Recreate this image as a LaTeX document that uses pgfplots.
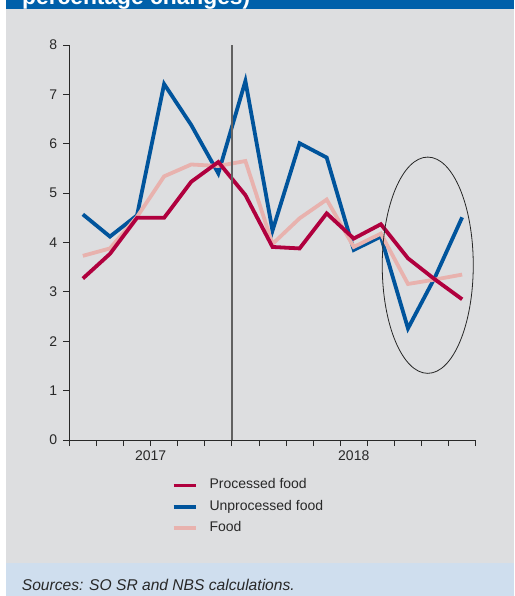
\documentclass[border=0pt]{standalone}
\usepackage{pgfplots}
\pgfplotsset{compat=1.18}
\usepackage{fontspec}
\setmainfont{Liberation Sans}
\definecolor{hdrblue}{RGB}{0,96,170}
\definecolor{panelgray}{RGB}{221,222,224}
\definecolor{srcblue}{RGB}{207,222,238}
\definecolor{cred}{RGB}{176,0,62}
\definecolor{cblue}{RGB}{0,84,156}
\definecolor{cpink}{RGB}{232,178,174}
\definecolor{txt}{RGB}{40,40,40}
\begin{document}
\begin{tikzpicture}[x=1pt,y=1pt]
\fill[white] (0,0) rectangle (514,-596);
\fill[hdrblue] (6,0) rectangle (514,-9.5);
\begin{scope}
\clip (6,0) rectangle (514,-9.5);
\node[anchor=base west, inner sep=0pt, text=white, font=\bfseries\fontsize{22.8}{24}\selectfont] at (22,-5) {percentage changes)};
\end{scope}
\fill[panelgray] (6,-9.5) rectangle (514,-562.7);
\fill[srcblue] (6,-562.7) rectangle (514,-596);
\node[anchor=base west, inner sep=0pt, text=txt, font=\itshape\fontsize{15.6}{18}\selectfont] at (21.7,-590) {Sources: SO SR and NBS calculations.};
\begin{axis}[
  at={(69.3pt,-440pt)}, anchor=south west,
  scale only axis, width=406.4pt, height=395pt,
  xmin=0, xmax=15, ymin=0, ymax=8,
  axis lines*=left,
  axis line style={-, draw=txt, line width=0.8pt},
  tick align=outside, major tick length=6pt,
  tick style={draw=txt, line width=0.8pt},
  xtick={0,1,...,15}, xticklabels={},
  ytick={0,1,...,8},
  extra x ticks={3,10.5}, extra x tick labels={2017,2018},
  extra x tick style={tick style={draw=none}},
  xticklabel style={inner sep=0pt, yshift=-5pt},
  yticklabel style={inner sep=0pt, xshift=-6pt},
  /pgf/number format/assume math mode=true,
  every tick label/.append style={font=\fontsize{14}{16}\selectfont, text=txt},
  clip=false,
  legend style={at={(0.2525,-0.0987)}, anchor=north west, draw=none, fill=none,
    inner sep=0pt, outer sep=0pt, row sep=8.3pt, column sep=12pt,
    font=\fontsize{14}{16}\selectfont, text=txt,
    nodes={inner sep=0pt, text height=10pt, text depth=3pt}},
  legend cell align=left,
  legend image code/.code={\draw[#1, line width=3.6pt] (0pt,0pt) -- (22pt,0pt);},
]
\addplot[cblue, line width=3.8pt, forget plot] coordinates {
(0.5,4.57) (1.5,4.12) (2.5,4.55) (3.5,7.21) (4.5,6.38) (5.5,5.40) (6.5,7.27) (7.5,4.24)
(8.5,6.01) (9.5,5.72) (10.5,3.85) (11.5,4.12) (12.5,2.26) (13.5,3.30) (14.5,4.51)};
\addplot[cpink, line width=3.8pt, forget plot] coordinates {
(0.5,3.73) (1.5,3.88) (2.5,4.52) (3.5,5.34) (4.5,5.58) (5.5,5.55) (6.5,5.65) (7.5,3.97)
(8.5,4.49) (9.5,4.87) (10.5,3.91) (11.5,4.18) (12.5,3.16) (13.5,3.25) (14.5,3.35)};
\addplot[cred, line width=3.8pt, forget plot] coordinates {
(0.5,3.27) (1.5,3.77) (2.5,4.50) (3.5,4.50) (4.5,5.23) (5.5,5.63) (6.5,4.96) (7.5,3.91)
(8.5,3.88) (9.5,4.59) (10.5,4.08) (11.5,4.37) (12.5,3.68) (13.5,3.25) (14.5,2.85)};
\draw[black!62, line width=1.5pt] (axis cs:6,0) -- (axis cs:6,8);
\draw[black!85, line width=0.8pt] (axis cs:13.23,3.54) ellipse [x radius=1.68, y radius=2.19];
\addlegendimage{cred}
\addlegendentry{Processed food}
\addlegendimage{cblue}
\addlegendentry{Unprocessed food}
\addlegendimage{cpink}
\addlegendentry{Food}
\end{axis}
\end{tikzpicture}
\end{document}
